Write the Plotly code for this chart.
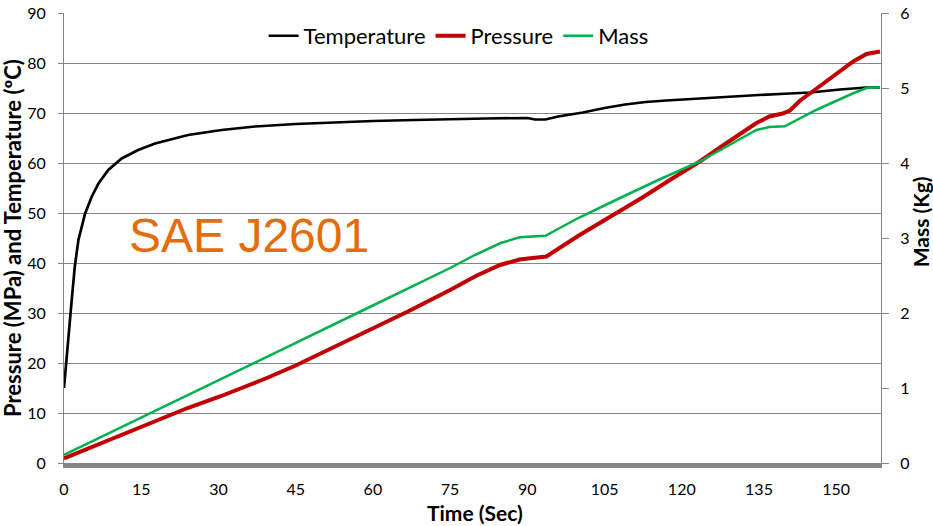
import plotly.graph_objects as go

# ---- data ----
temp_t = [0, 0.4, 0.84, 1.5, 2.1, 2.8, 4.1, 5.4, 6.7, 8.6, 11.2, 14.4, 17.7, 24.1, 30.6, 37.1,
          45, 52, 60, 68, 75, 82, 90, 91.5, 93.5, 96, 100.8, 105, 109, 113, 117, 120, 123.5, 130, 135,
          141, 145, 150.7, 155.9, 158.5]
temp_v = [15, 20, 25.9, 32.6, 39.3, 44.6, 49.9, 53.3, 55.9, 58.6, 60.9, 62.6, 63.9, 65.6, 66.6, 67.3,
          67.8, 68.1, 68.4, 68.6, 68.8, 68.9, 69.0, 68.7, 68.7, 69.3, 70.1, 71.0, 71.7, 72.2, 72.5, 72.7, 72.9,
          73.3, 73.6, 73.9, 74.1, 74.7, 75.1, 75.1]

pres_t = [0, 8, 16.7, 24, 30.3, 39.4, 45, 52, 60, 67, 75, 80, 84.7, 88.5, 91, 93.7, 100, 107.3,
          112.2, 118, 123.5, 128, 132, 134.5, 137, 139.6, 141, 143, 146.2, 150, 153.3, 155.9, 158.5]
pres_v = [0.9, 4.3, 7.9, 11, 13.3, 17, 19.5, 23, 26.8, 30.4, 34.6, 37.4, 39.6, 40.7, 41, 41.3, 45.5, 49.9,
          53.0, 56.8, 60.3, 63.5, 66.3, 68, 69.3, 69.9, 70.5, 72.5, 74.9, 77.8, 80.3, 81.8, 82.3]

mass_t = [0, 16.7, 30.3, 45, 60, 75, 80, 84.7, 88.5, 93.5, 100, 107.3, 115, 123.5, 130, 134.5,
          137, 140, 146.2, 150, 153.3, 155.9, 158.5]
mass_v = [0.107, 0.66, 1.107, 1.6, 2.1, 2.6, 2.78, 2.93, 3.01, 3.03, 3.27, 3.51, 3.76, 4.02, 4.27, 4.44,
          4.48, 4.49, 4.71, 4.83, 4.93, 5.0, 5.01]

x_ticks = [0, 15, 30, 45, 60, 75, 90, 105, 120, 135, 150]
x_max = 158.7
left_range = [0, 90]
right_range = [0, 6]

GRID = "#868686"
FONT = "Lato"

fig = go.Figure()
fig.add_trace(go.Scatter(x=temp_t, y=temp_v, name="Temperature", mode="lines",
                         line=dict(color="#000000", width=2.7)))
fig.add_trace(go.Scatter(x=pres_t, y=pres_v, name="Pressure", mode="lines",
                         line=dict(color="#C00000", width=4)))
fig.add_trace(go.Scatter(x=mass_t, y=mass_v, name="Mass", mode="lines", yaxis="y2",
                         line=dict(color="#00B050", width=2.5)))

fig.update_layout(
    width=933, height=526,
    margin=dict(l=64, r=52, t=13, b=63, autoexpand=False),
    paper_bgcolor="white", plot_bgcolor="white",
    font=dict(family=FONT, size=16, color="#000000"),
    showlegend=True,
    legend=dict(orientation="h", x=0.483, xanchor="center", y=0.949, yanchor="middle",
                font=dict(family=FONT, size=22, color="#000000"),
                bgcolor="rgba(0,0,0,0)", itemwidth=30, tracegroupgap=0),
    xaxis=dict(range=[0, x_max], tickmode="array", tickvals=x_ticks,
               showgrid=False, zeroline=False, showline=True, linecolor=GRID, linewidth=5,
               ticks="", ticklabelstandoff=8, tickfont=dict(size=16), automargin=False),
    yaxis=dict(range=left_range, dtick=10, showgrid=True, gridcolor=GRID, gridwidth=1,
               zeroline=False, showline=True, linecolor=GRID, linewidth=1,
               ticks="outside", ticklen=5, tickcolor=GRID, ticklabelstandoff=9,
               tickfont=dict(size=16), automargin=False),
    yaxis2=dict(range=right_range, dtick=1, overlaying="y", side="right", showgrid=False,
                zeroline=False, showline=True, linecolor=GRID, linewidth=1,
                ticks="outside", ticklen=7, tickcolor=GRID, ticklabelstandoff=8,
                tickfont=dict(size=16), automargin=False),
    annotations=[
        dict(text="SAE J2601", x=12.3, y=45.5, xref="x", yref="y", xanchor="left", yanchor="middle",
             showarrow=False, font=dict(family="Liberation Sans", size=48, color="#E46C0A")),
        dict(text="<b>Time (Sec)</b>", x=0.5, y=-0.111, xref="paper", yref="paper",
             xanchor="center", yanchor="middle", xshift=2, showarrow=False,
             font=dict(family=FONT, size=21, color="#000000")),
        dict(text="<b>Pressure (MPa) and Temperature (ºC)</b>", x=0, y=0.5, xref="paper", yref="paper",
             xanchor="center", yanchor="middle", xshift=-52, yshift=0, textangle=-90, showarrow=False,
             font=dict(family=FONT, size=22, color="#000000")),
        dict(text="<b>Mass (Kg)</b>", x=1, y=0.535, xref="paper", yref="paper",
             xanchor="center", yanchor="middle", xshift=39, textangle=-90, showarrow=False,
             font=dict(family=FONT, size=21, color="#000000")),
    ],
)

fig.write_html("out.html")
